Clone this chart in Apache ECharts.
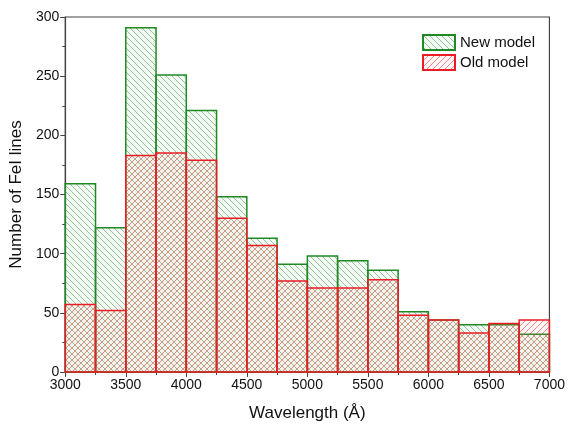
<!DOCTYPE html>
<html>
<head>
<meta charset="utf-8">
<script src="https://cdn.jsdelivr.net/npm/echarts@6/dist/echarts.min.js"></script>
<style>
html,body{margin:0;padding:0;background:#fff;}
#chart{width:568px;height:427px;}
</style>
</head>
<body>
<div id="chart"></div>
<script>
// Bin edges (Å), 250 Å wide bins
const binStarts = [3000,3250,3500,3750,4000,4250,4500,4750,5000,5250,5500,5750,6000,6250,6500,6750];
const binWidth = 250;
const newModel = [159,122,291,251,221,148,113,91,98,94,86,51,44,40,40,32];
const oldModel = [57,52,183,185,179,130,107,77,71,71,78,48,44,33,41,44];
const xTicks = [3000,3500,4000,4500,5000,5500,6000,6500,7000];
const yTicks = [0,50,100,150,200,250,300];

function hatch(lineColor, bg, dir) {
  const s = 6;
  const c = document.createElement('canvas');
  c.width = s; c.height = s;
  const ctx = c.getContext('2d');
  ctx.fillStyle = bg;
  ctx.fillRect(0, 0, s, s);
  ctx.strokeStyle = lineColor;
  ctx.lineWidth = 0.9;
  ctx.beginPath();
  for (const i of [-1, 0, 1]) {
    if (dir === 'back') { ctx.moveTo(i * s, 0); ctx.lineTo(i * s + s, s); }
    else { ctx.moveTo(i * s, s); ctx.lineTo(i * s + s, 0); }
  }
  ctx.stroke();
  return { image: c, repeat: 'repeat' };
}

const greenBorder = '#1f8a24';
const redBorder = '#ec1c24';
const greenPat = hatch('rgba(25,125,30,0.5)', 'rgba(150,210,150,0.10)', 'back');
const redPat = hatch('rgba(240,30,30,0.6)', 'rgba(255,170,170,0.08)', 'fwd');

function toData(vals) {
  return vals.map((v, i) => [binStarts[i], binStarts[i] + binWidth, v]);
}
function makeRender(pat, stroke) {
  return function (params, api) {
    const p0 = api.coord([api.value(0), api.value(2)]);
    const p1 = api.coord([api.value(1), 0]);
    return {
      type: 'rect',
      shape: { x: p0[0], y: p0[1], width: p1[0] - p0[0], height: p1[1] - p0[1] },
      style: { fill: pat, stroke: stroke, lineWidth: 1.5 }
    };
  };
}

const font = 'Liberation Sans, Arial, sans-serif';
const chart = echarts.init(document.getElementById('chart'), null, { renderer: 'canvas' });
chart.setOption({
  animation: false,
  backgroundColor: '#fff',
  textStyle: { fontFamily: font },
  grid: { left: 64, right: 17, top: 17, bottom: 49, show: true, borderColor: '#444', borderWidth: 1.2, backgroundColor: 'transparent' },
  legend: {
    orient: 'vertical', left: 422, top: 34, padding: 0,
    itemWidth: 32, itemHeight: 15, itemGap: 3,
    icon: 'rect',
    textStyle: { fontSize: 15, color: '#111', fontFamily: font, padding: [0, 0, 0, 0] },
    data: ['New model', 'Old model']
  },
  xAxis: {
    type: 'value', min: xTicks[0], max: xTicks[xTicks.length - 1], interval: 500,
    name: 'Wavelength (Å)', nameLocation: 'middle', nameGap: 33,
    nameTextStyle: { fontSize: 17, color: '#111', fontFamily: font },
    axisLine: { show: true, lineStyle: { color: '#444', width: 1.2 } },
    axisTick: { show: true, length: 5, lineStyle: { color: '#444' } },
    minorTick: { show: true, splitNumber: 2, length: 3, lineStyle: { color: '#444' } },
    axisLabel: { fontSize: 14, color: '#111', margin: 6, fontFamily: font, formatter: v => String(v) },
    splitLine: { show: false }
  },
  yAxis: {
    type: 'value', min: yTicks[0], max: yTicks[yTicks.length - 1], interval: 50,
    name: 'Number of FeI lines', nameLocation: 'middle', nameGap: 38,
    nameTextStyle: { fontSize: 17, color: '#111', fontFamily: font },
    axisLine: { show: true, lineStyle: { color: '#444', width: 1.2 } },
    axisTick: { show: true, length: 5, lineStyle: { color: '#444' } },
    minorTick: { show: true, splitNumber: 2, length: 3, lineStyle: { color: '#444' } },
    axisLabel: { fontSize: 14, color: '#111', margin: 6, fontFamily: font, formatter: v => String(v) },
    splitLine: { show: false }
  },
  series: [
    {
      name: 'New model', type: 'custom', data: toData(newModel),
      encode: { x: [0, 1], y: 2 },
      itemStyle: { color: greenPat, borderColor: greenBorder, borderWidth: 1.5 },
      renderItem: makeRender(greenPat, greenBorder), z: 2
    },
    {
      name: 'Old model', type: 'custom', data: toData(oldModel),
      encode: { x: [0, 1], y: 2 },
      itemStyle: { color: redPat, borderColor: redBorder, borderWidth: 1.5 },
      renderItem: makeRender(redPat, redBorder), z: 3
    }
  ]
});
</script>
</body>
</html>
